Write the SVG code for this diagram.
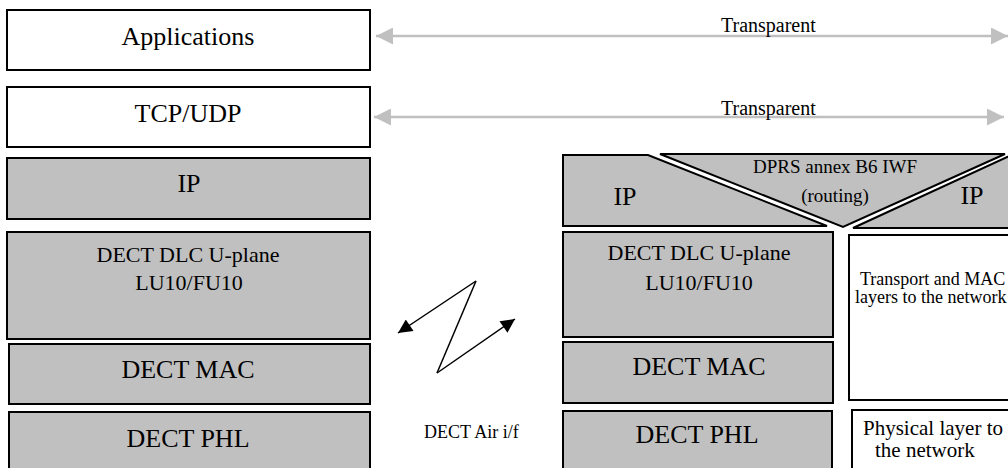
<svg xmlns="http://www.w3.org/2000/svg" width="1008" height="468" viewBox="0 0 1008 468">
<defs>
<style>
.w{fill:#ffffff;stroke:#000;stroke-width:2}
.g{fill:#c0c0c0;stroke:#000;stroke-width:2}
text{font-family:"Liberation Serif","Times New Roman",serif;fill:#000}
.c{text-anchor:middle}
.t26{font-size:26px}
.t22{font-size:22px}
.t20{font-size:20px}
.t19{font-size:19px}
.t18{font-size:18px}
.ga{stroke:#c0c0c0;stroke-width:2.5;fill:none}
.za{stroke:#000;stroke-width:1.5;fill:none}
</style>
<marker id="gh" viewBox="0 0 10 10" refX="10" refY="5" markerWidth="17" markerHeight="17" markerUnits="userSpaceOnUse" orient="auto-start-reverse">
<path d="M0,0 L10,5 L0,10 Z" fill="#c0c0c0"/>
</marker>
<marker id="bh" viewBox="0 0 10 10" refX="10" refY="5" markerWidth="16" markerHeight="14" markerUnits="userSpaceOnUse" orient="auto">
<path d="M0,0 L10,5 L0,10 Z" fill="#000"/>
</marker>
</defs>

<g id="applications"><rect class="w" x="7" y="10" width="363" height="60"/><text class="c t26" x="188" y="45">Applications</text></g>
<g id="tcpudp"><rect class="w" x="7" y="87" width="363" height="60"/><text class="c t26" x="188" y="122">TCP/UDP</text></g>
<g id="ip-left"><rect class="g" x="7" y="158" width="363" height="61"/><text class="c t26" x="189" y="192">IP</text></g>
<g id="dlc-left"><rect class="g" x="7" y="232" width="363" height="107"/><text class="c t22" x="188" y="262">DECT DLC U-plane</text><text class="c t22" x="189" y="290">LU10/FU10</text></g>
<g id="mac-left"><rect class="g" x="9" y="344" width="361" height="60"/><text class="c t26" x="188" y="378">DECT MAC</text></g>
<g id="phl-left"><rect class="g" x="9" y="412" width="361" height="70"/><text class="c t26" x="188" y="447">DECT PHL</text></g>

<g id="ip-right-a"><polygon class="g" points="563,155 648,155 827,226 563,226"/><text class="c t26" x="625" y="205">IP</text></g>
<g id="iwf"><polygon class="g" points="660,154 1005,154 843,227"/><text class="c t19" x="835" y="173">DPRS annex B6 IWF</text><text class="c t19" x="835" y="202">(routing)</text></g>
<g id="ip-right-b"><polygon class="g" points="853,228 1016,153 1030,153 1030,228"/><text class="c t26" x="972" y="204">IP</text></g>
<g id="dlc-right"><rect class="g" x="563" y="232" width="270" height="105"/><text class="c t22" x="699" y="260">DECT DLC U-plane</text><text class="c t22" x="699" y="290">LU10/FU10</text></g>
<g id="mac-right"><rect class="g" x="563" y="342" width="270" height="61"/><text class="c t26" x="699" y="375">DECT MAC</text></g>
<g id="phl-right"><rect class="g" x="563" y="411" width="269" height="70"/><text class="c t26" x="697" y="443">DECT PHL</text></g>
<g id="transport"><rect class="w" x="849" y="235" width="180" height="165"/><text class="t18" x="860" y="285">Transport and MAC</text><text class="t18" x="855" y="303">layers to the network</text></g>
<g id="physical"><rect class="w" x="852" y="410" width="180" height="70"/><text class="t20" x="863" y="435" style="font-size:21px">Physical layer to</text><text class="t20" x="875" y="457" style="font-size:21px">the network</text></g>

<g id="connectors">
<line class="ga" x1="376" y1="36" x2="1008" y2="36" marker-start="url(#gh)" marker-end="url(#gh)"/>
<text class="t20" x="721" y="32">Transparent</text>
<line class="ga" x1="374" y1="117" x2="1004" y2="117" marker-start="url(#gh)" marker-end="url(#gh)"/>
<text class="t20" x="721" y="115">Transparent</text>
<line class="za" x1="476" y1="281" x2="398" y2="333" marker-end="url(#bh)"/>
<line class="za" x1="476" y1="281" x2="437" y2="373"/>
<line class="za" x1="437" y1="373" x2="515" y2="319" marker-end="url(#bh)"/>
<text class="t18" x="424" y="438">DECT Air i/f</text>
</g>
</svg>
